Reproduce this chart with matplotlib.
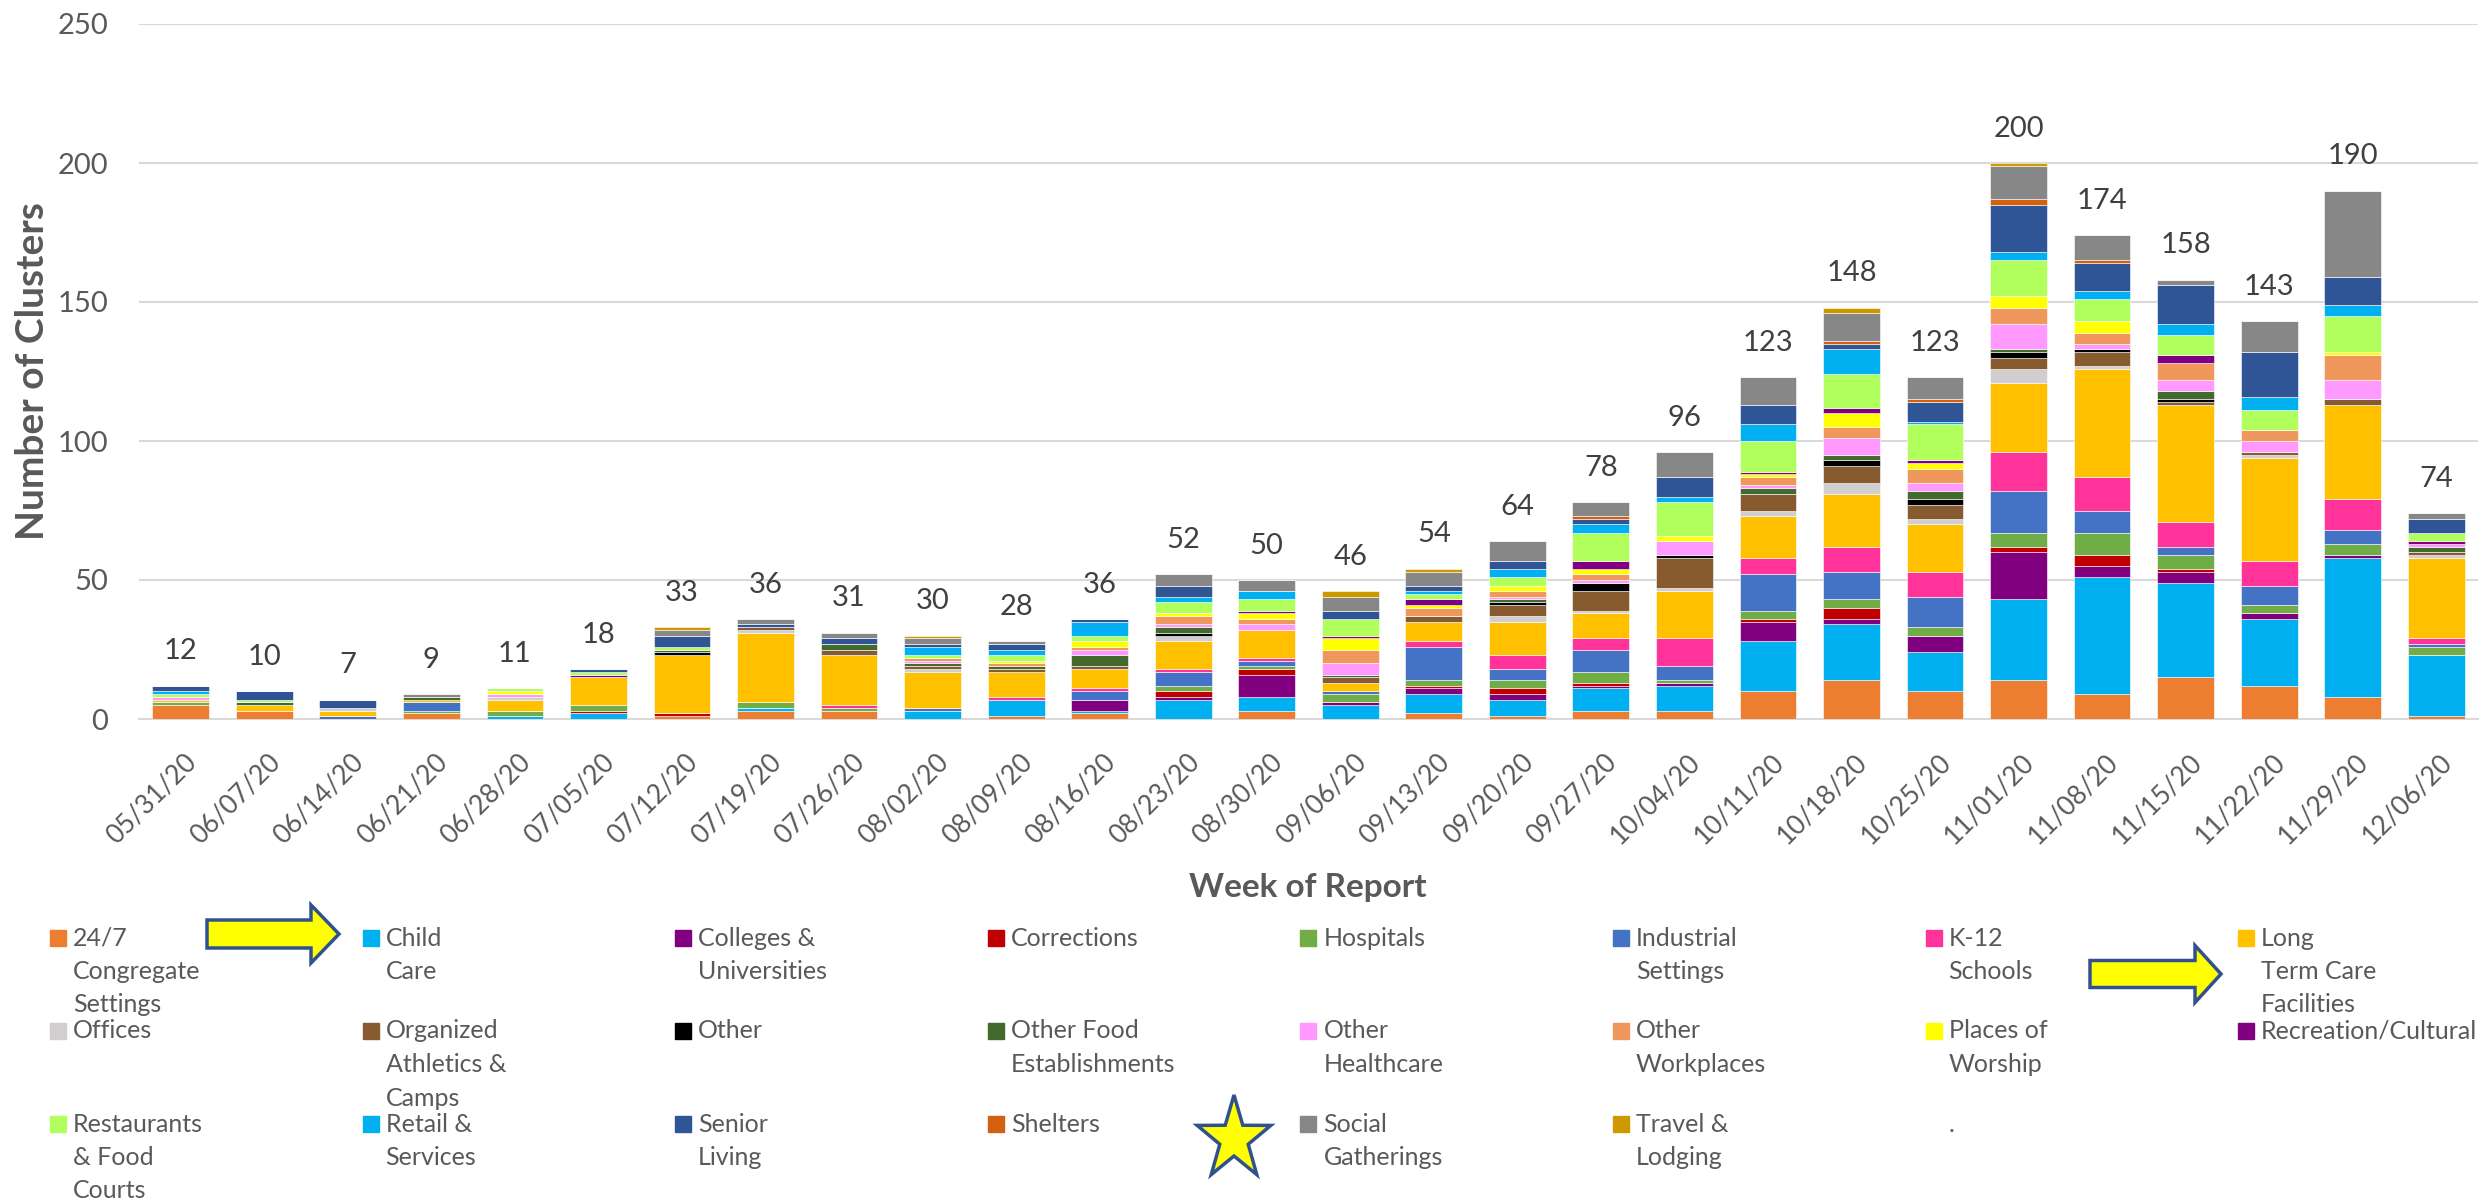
import numpy as np
import matplotlib
matplotlib.use("Agg")
import matplotlib.pyplot as plt
from matplotlib.patches import Rectangle, Polygon
from matplotlib.transforms import ScaledTranslation

plt.rcParams['font.family'] = ['Lato', 'DejaVu Sans']

weeks = ['05/31/20', '06/07/20', '06/14/20', '06/21/20', '06/28/20', '07/05/20', '07/12/20',
         '07/19/20', '07/26/20', '08/02/20', '08/09/20', '08/16/20', '08/23/20', '08/30/20',
         '09/06/20', '09/13/20', '09/20/20', '09/27/20', '10/04/20', '10/11/20', '10/18/20',
         '10/25/20', '11/01/20', '11/08/20', '11/15/20', '11/22/20', '11/29/20', '12/06/20']

# clusters per setting, one value per week
congregate = [5, 3, 0, 2, 0, 0, 1, 3, 3, 0, 1, 2, 0, 3, 0, 2, 1, 3, 3, 10, 14, 10, 14, 9, 15, 12, 8, 1]
child_care = [0, 0, 0, 0, 1, 2, 0, 1, 0, 3, 6, 1, 7, 5, 5, 7, 6, 8, 9, 18, 20, 14, 29, 42, 34, 24, 50, 22]
colleges = [0, 0, 0, 0, 0, 0, 0, 0, 0, 0, 0, 4, 1, 8, 1, 2, 2, 1, 1, 7, 2, 6, 17, 4, 4, 2, 1, 0]
corrections = [0, 0, 0, 0, 0, 1, 1, 0, 0, 0, 0, 0, 2, 2, 0, 1, 2, 1, 0, 1, 4, 0, 2, 4, 1, 0, 0, 0]
hospitals = [1, 0, 0, 1, 2, 2, 0, 2, 1, 0, 0, 0, 2, 1, 3, 2, 3, 4, 1, 3, 3, 3, 5, 8, 5, 3, 4, 3]
industrial = [0, 0, 1, 3, 0, 0, 0, 0, 0, 1, 0, 3, 5, 2, 1, 12, 4, 8, 5, 13, 10, 11, 15, 8, 3, 7, 5, 1]
k12 = [0, 0, 0, 0, 0, 0, 0, 0, 1, 0, 1, 1, 1, 1, 0, 2, 5, 4, 10, 6, 9, 9, 14, 12, 9, 9, 11, 2]
long_term = [1, 2, 2, 1, 4, 10, 21, 25, 18, 13, 9, 7, 10, 10, 3, 7, 12, 9, 17, 15, 19, 17, 25, 39, 42, 37, 34, 29]
offices = [0, 0, 1, 0, 1, 0, 0, 1, 0, 1, 0, 0, 2, 0, 0, 0, 2, 1, 1, 2, 4, 2, 5, 1, 0, 1, 0, 1]
athletics = [0, 0, 0, 0, 0, 0, 0, 1, 2, 1, 1, 1, 0, 0, 2, 2, 4, 7, 11, 6, 6, 5, 4, 5, 1, 1, 2, 1]
other = [0, 0, 0, 0, 0, 0, 1, 0, 0, 0, 0, 0, 1, 0, 0, 0, 1, 3, 1, 0, 2, 2, 2, 1, 1, 0, 0, 0]
other_food = [0, 1, 0, 1, 0, 0, 1, 0, 2, 1, 1, 4, 2, 0, 1, 0, 1, 0, 0, 2, 2, 3, 1, 0, 3, 0, 0, 2]
other_health = [1, 0, 0, 0, 1, 0, 0, 0, 0, 1, 0, 2, 1, 2, 4, 0, 1, 1, 5, 1, 6, 3, 9, 2, 4, 4, 7, 1]
other_work = [0, 0, 0, 0, 0, 0, 0, 0, 0, 1, 1, 1, 3, 2, 5, 3, 2, 2, 0, 3, 4, 5, 6, 4, 6, 4, 9, 0]
worship = [0, 0, 0, 0, 1, 0, 0, 0, 0, 0, 1, 2, 1, 2, 4, 1, 2, 2, 2, 1, 5, 2, 4, 4, 0, 0, 1, 0]
recreation = [0, 0, 0, 0, 0, 1, 0, 0, 0, 0, 0, 0, 0, 1, 1, 2, 0, 3, 0, 1, 2, 1, 0, 0, 3, 0, 0, 1]
restaurants = [1, 1, 0, 0, 1, 1, 1, 0, 0, 1, 2, 2, 4, 4, 6, 2, 3, 10, 12, 11, 12, 13, 13, 8, 7, 7, 13, 3]
retail = [1, 0, 0, 0, 0, 0, 0, 0, 0, 3, 2, 5, 2, 3, 0, 1, 3, 3, 2, 6, 9, 1, 3, 3, 4, 5, 4, 0]
senior = [2, 3, 3, 0, 0, 1, 4, 1, 2, 1, 2, 1, 4, 0, 3, 2, 3, 2, 7, 7, 2, 7, 17, 10, 14, 16, 10, 5]
shelters = [0, 0, 0, 0, 0, 0, 0, 0, 0, 0, 0, 0, 0, 0, 0, 0, 0, 1, 0, 0, 1, 1, 2, 1, 0, 0, 0, 0]
social = [0, 0, 0, 1, 0, 0, 2, 2, 2, 2, 1, 0, 4, 4, 5, 5, 7, 5, 9, 10, 10, 8, 12, 9, 2, 11, 31, 2]
travel = [0, 0, 0, 0, 0, 0, 1, 0, 0, 1, 0, 0, 0, 0, 2, 1, 0, 0, 0, 0, 2, 0, 1, 0, 0, 0, 0, 0]

series = [congregate, child_care, colleges, corrections, hospitals, industrial, k12, long_term,
          offices, athletics, other, other_food, other_health, other_work, worship, recreation,
          restaurants, retail, senior, shelters, social, travel]

# legend text, wrapped like in the original legend
labels = ['24/7\nCongregate\nSettings', 'Child\nCare', 'Colleges &\nUniversities', 'Corrections',
          'Hospitals', 'Industrial\nSettings', 'K-12\nSchools', 'Long\nTerm Care\nFacilities',
          'Offices', 'Organized\nAthletics &\nCamps', 'Other', 'Other Food\nEstablishments',
          'Other\nHealthcare', 'Other\nWorkplaces', 'Places of\nWorship', 'Recreation/Cultural',
          'Restaurants\n& Food\nCourts', 'Retail &\nServices', 'Senior\nLiving', 'Shelters',
          'Social\nGatherings', 'Travel &\nLodging', '.']

colors = ['#ED7D31', '#00B0F0', '#800080', '#C00000', '#70AD47', '#4472C4', '#FF3399', '#FFC000',
          '#D0CECE', '#875A2F', '#000000', '#426A2C', '#FF99FF', '#F0975D', '#FFFF00', '#800080',
          '#B0FF5C', '#00B0F0', '#2F5597', '#D2600F', '#878787', '#CC9900', 'none']

W, H = 2483, 1202
fig = plt.figure(figsize=(W / 100, H / 100), dpi=100)
ax = fig.add_axes([139 / W, 1 - 719 / H, (2478 - 139) / W, (719 - 24) / H])

x = np.arange(len(weeks))
bottom = np.zeros(len(weeks))
for vals, col in zip(series, colors):
    ax.bar(x, vals, bottom=bottom, width=0.68, color=col, edgecolor='white', linewidth=0.4, zorder=3)
    bottom += np.array(vals)

# totals on top of each bar
for i, tot in enumerate(bottom):
    ax.annotate(str(int(tot)), (i, tot), xytext=(0, 19), textcoords='offset points',
                ha='center', va='baseline', fontsize=21, color='#404040')

ax.set_xlim(-0.5, len(weeks) - 0.5)
ax.set_ylim(0, 250)
ax.set_yticks(range(0, 251, 50))
ax.grid(axis='y', color='#D9D9D9', linewidth=1.5, zorder=0)
for s in ['top', 'right', 'left']:
    ax.spines[s].set_visible(False)
ax.spines['bottom'].set_color('#D9D9D9')
ax.spines['bottom'].set_linewidth(1.5)

ax.tick_params(axis='y', length=0, pad=22, labelsize=21, labelcolor='#595959')
ax.tick_params(axis='x', length=0, pad=28, labelsize=19, labelcolor='#595959')
ax.set_xticks(x)
ax.set_xticklabels(weeks, rotation=45, ha='right', va='center', rotation_mode='anchor')
shift = ScaledTranslation(0.12, 0, fig.dpi_scale_trans)
for lab in ax.get_xticklabels():
    lab.set_transform(lab.get_transform() + shift)

ax.set_ylabel('Number of Clusters', fontsize=28, fontweight='bold', color='#595959')
ax.yaxis.set_label_coords(-0.038, 0.5)
fig.text(1308 / W, 1 - 887 / H, 'Week of Report', fontsize=24, fontweight='bold', color='#595959',
         ha='center', va='center')

# legend drawn by hand in pixel coordinates (rows are aligned like the original)
lay = fig.add_axes([0, 0, 1, 1])
lay.set_xlim(0, W)
lay.set_ylim(H, 0)
lay.axis('off')
for k, (lab, col) in enumerate(zip(labels, colors)):
    row, c = divmod(k, 8)
    x0 = 50 + 312.6 * c
    y0 = 938 + 93 * row
    if col != 'none':
        lay.add_patch(Rectangle((x0, y0 - 8), 16, 16, color=col))
    for j, line in enumerate(lab.split('\n')):
        lay.text(x0 + 23, y0 + 33.5 * j, line, fontsize=18, color='#595959', va='center', ha='left')

# yellow arrows and star
def arrow(xl, xh, xt, yc, bh, hh):
    pts = [(xl, yc - bh), (xh, yc - bh), (xh, yc - hh), (xt, yc), (xh, yc + hh), (xh, yc + bh), (xl, yc + bh)]
    lay.add_patch(Polygon(pts, closed=True, facecolor='#FFFF00', edgecolor='#2F528F', linewidth=2.5))

arrow(207, 311, 339, 934, 14, 29)
arrow(2090, 2195, 2221, 974, 13.5, 28.5)

ang = np.pi / 2 + np.arange(10) * np.pi / 5
rad = np.where(np.arange(10) % 2 == 0, 44, 17)
star = np.column_stack([1234 + rad * np.cos(ang) * 0.88, 1139 - rad * np.sin(ang)])
lay.add_patch(Polygon(star, closed=True, facecolor='#FFFF00', edgecolor='#2F528F', linewidth=2.5))

fig.savefig('out.png', dpi=100)
